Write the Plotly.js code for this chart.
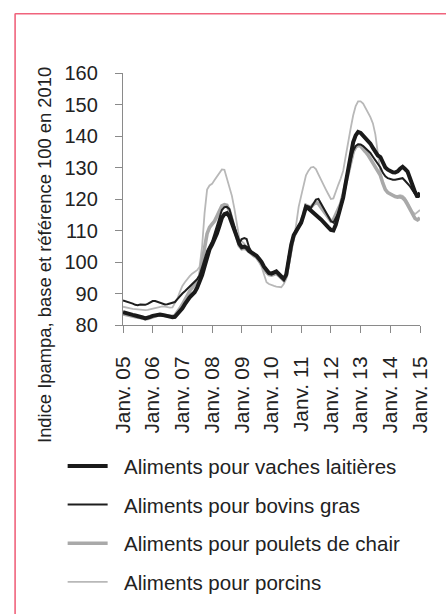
<!DOCTYPE html>
<html>
<head>
<meta charset="utf-8">
<script src="https://cdn.plot.ly/plotly-3.0.1.min.js"></script>
<style>
  html, body { margin: 0; padding: 0; background: #ffffff; }
  #chart { width: 446px; height: 614px; }
</style>
</head>
<body>
<div id="chart"></div>
<script>
// Monthly index values, January 2005 to January 2015
const startYear = 2005;

const vachesLaitieres = [
  84.1, 83.8, 83.5, 83.3, 83.2, 83.0, 82.9, 82.8, 82.4, 82.1, 82.2, 82.6,
  82.9, 83.1, 83.3, 83.3, 83.2, 83.0, 82.8, 82.6, 82.5, 82.6, 83.4, 84.4,
  85.3, 86.6, 87.9, 88.8, 89.6, 90.4, 91.8, 93.5, 95.8, 98.6, 102.0, 104.0,
  105.5, 107.2, 109.0, 111.5, 114.0, 115.2, 115.5, 114.5, 112.0, 110.0, 108.0, 105.8,
  104.7, 104.9, 104.5, 103.5, 103.0, 102.4, 102.0, 101.0, 100.0, 98.5, 97.3, 96.5,
  96.3, 96.6, 97.0, 96.2, 95.2, 94.6, 96.0, 101.5, 105.5, 108.5, 110.0, 111.2,
  112.5, 115.0, 117.5, 117.0, 116.2, 115.6, 115.0, 114.2, 113.5, 112.8, 112.0, 111.0,
  110.2, 110.0, 111.8, 114.5, 117.5, 120.5, 125.0, 130.0, 134.5, 138.0, 140.2, 141.3,
  141.0, 140.2, 139.2, 138.6, 137.6, 136.2, 134.8, 133.8, 133.3, 131.5, 130.0, 129.3,
  128.8, 128.5, 128.4, 128.8, 129.6, 130.2, 129.5, 128.7, 126.5, 124.2, 122.2, 120.6,
  122.0
];

const bovinsGras = [
  87.8, 87.6, 87.4, 87.2, 86.8, 86.4, 86.3, 86.5, 86.5, 86.4, 86.7, 87.2,
  87.6, 87.6, 87.3, 87.1, 86.8, 86.5, 86.6, 86.8, 86.9, 87.3, 88.2, 89.2,
  90.0, 90.7, 91.4, 92.1, 92.8, 93.5, 94.5, 95.8, 98.5, 101.5, 103.5, 105.0,
  106.5, 109.0, 111.3, 114.0, 116.5, 117.4, 117.5, 116.8, 113.8, 111.0, 108.5, 106.0,
  107.3, 107.6, 107.3, 104.6, 103.2, 102.5, 102.0, 101.0, 100.0, 98.5, 97.3, 96.4,
  96.2, 96.5, 96.8, 96.0, 95.0, 94.5, 96.2, 101.8, 105.8, 108.8, 110.2, 111.4,
  112.8, 115.5, 117.8, 117.6, 117.2, 118.5, 119.8, 120.0, 118.6, 117.3, 116.0, 114.5,
  113.0, 112.5, 113.8, 115.5, 117.5, 120.0, 124.5, 129.0, 132.5, 135.3, 136.8, 137.4,
  137.3, 136.8, 136.2, 135.5, 134.6, 133.4, 132.2, 131.0, 130.0, 128.3, 127.2, 126.6,
  126.3, 126.1, 126.1, 126.3, 126.6, 126.6, 125.8, 125.0, 124.0, 122.8, 121.6, 121.0,
  121.2
];

const pouletsDeChair = [
  83.5, 83.3, 83.1, 82.9, 82.7, 82.6, 82.5, 82.4, 82.2, 82.0, 82.1, 82.4,
  82.7, 82.9, 83.1, 83.2, 83.1, 82.9, 82.8, 82.7, 82.7, 83.0, 84.0, 85.2,
  86.5, 88.0, 89.5, 90.7, 91.8, 92.8, 93.8, 95.5, 99.5, 104.5, 109.0, 111.0,
  112.0, 113.0, 114.5, 116.5, 117.8, 118.2, 118.0, 116.3, 113.3, 110.5, 107.5, 105.2,
  104.2, 104.4, 104.0, 103.2, 102.6, 102.0, 101.5, 100.5, 99.4, 98.0, 96.7, 96.0,
  95.8, 96.1, 96.4, 95.7, 94.8, 94.2, 95.5, 101.0, 105.0, 108.0, 110.0, 111.3,
  112.6, 115.5, 118.0, 117.6, 117.4, 118.3, 118.9, 118.5, 117.3, 116.2, 115.0, 114.0,
  113.0, 113.4, 115.0, 116.8, 118.5, 121.5, 125.0, 129.0, 132.5, 135.0, 136.5, 137.0,
  136.8, 136.0, 135.0, 134.0, 132.8, 131.5, 130.2, 128.8, 127.5, 125.0, 123.0, 122.0,
  121.5, 121.1, 120.8, 120.6, 120.7, 120.4, 119.6, 118.2, 116.7, 115.2, 113.8, 113.4,
  114.0
];

const porcins = [
  85.8, 85.7, 85.5, 85.3, 85.1, 85.0, 84.9, 84.9, 84.8, 84.7, 84.8, 85.0,
  85.2, 85.4, 85.6, 85.8, 85.9, 85.8, 85.6, 85.5, 85.6, 86.8, 88.4, 90.5,
  92.4, 93.6, 94.6, 95.5, 96.3, 96.9, 97.4, 98.5, 105.0, 115.5, 123.0, 124.3,
  124.8, 126.0, 127.0, 128.3, 129.4, 129.3, 126.5, 123.5, 121.0, 117.0, 111.5, 107.5,
  106.5, 105.8, 104.8, 103.6, 102.8, 102.0, 101.2, 100.0, 98.5, 96.0, 93.6, 93.0,
  92.6, 92.4, 92.2, 92.0, 92.0, 93.0, 94.6, 98.5, 102.5, 107.0, 112.0, 117.5,
  121.0, 124.5, 127.5, 129.0, 130.0, 130.2, 129.5, 127.8, 126.0, 124.5, 123.0, 121.5,
  120.0, 120.2, 122.5, 124.5, 126.5, 129.0, 133.5, 138.5, 142.5, 146.5, 149.5, 151.0,
  151.0, 150.3, 149.0, 147.5, 146.0, 144.0, 140.5, 134.5, 128.5, 125.0, 123.0, 122.0,
  121.5, 121.3, 121.0, 121.0, 121.2, 121.0, 120.3, 119.0, 117.5, 116.0, 115.2, 116.0,
  116.5
];

const tickYears = [2005, 2006, 2007, 2008, 2009, 2010, 2011, 2012, 2013, 2014, 2015];
const tickLabels = ['Janv. 05', 'Janv. 06', 'Janv. 07', 'Janv. 08', 'Janv. 09', 'Janv. 10',
                    'Janv. 11', 'Janv. 12', 'Janv. 13', 'Janv. 14', 'Janv. 15'];
const seriesNames = ['Aliments pour vaches laitières', 'Aliments pour bovins gras',
                     'Aliments pour poulets de chair', 'Aliments pour porcins'];
const yTitle = 'Indice Ipampa, base et référence 100 en 2010';

const dates = vachesLaitieres.map((_, i) => {
  const y = startYear + Math.floor(i / 12);
  const m = (i % 12) + 1;
  return y + '-' + String(m).padStart(2, '0') + '-01';
});
const tickVals = tickYears.map(y => y + '-01-01');

const FONT = 'Liberation Sans, Arial, sans-serif';
const GAP = '\u00A0\u00A0';

function tr(name, y, color, width, group, rank) {
  return {
    type: 'scatter', mode: 'lines', x: dates, y: y, name: GAP + name,
    legendgroup: group, legendrank: rank,
    line: { color: color, width: width, shape: 'linear' },
    hoverinfo: 'skip'
  };
}

// drawn back to front; legend ordered by rank
const data = [
  tr(seriesNames[3], porcins, '#b8b8b8', 1.8, 'g4', 4),
  tr(seriesNames[2], pouletsDeChair, '#a9a9a9', 3.6, 'g3', 3),
  tr(seriesNames[1], bovinsGras, '#1e1e1e', 2.0, 'g2', 2),
  tr(seriesNames[0], vachesLaitieres, '#1a1a1a', 4.0, 'g1', 1)
];

const L = 123.3, R = 420, T = 72.7, B = 334.3;
const W = R - L, H = B - T;
const px = v => (v - L) / W;
const py = v => (B - v) / H;

const layout = {
  width: 446, height: 614,
  margin: { l: L, r: 446 - R, t: T, b: 614 - B, pad: 0 },
  paper_bgcolor: '#ffffff', plot_bgcolor: '#ffffff',
  font: { family: FONT, color: '#222222', size: 20 },
  showlegend: true,
  legend: {
    x: px(63), y: py(460), xanchor: 'left', yanchor: 'top',
    traceorder: 'grouped', tracegroupgap: 9,
    font: { family: FONT, size: 20.5, color: '#222222' },
    bgcolor: 'rgba(0,0,0,0)', itemwidth: 40, itemclick: false
  },
  xaxis: {
    type: 'date', range: ['2005-01-01', '2015-01-01'],
    tickmode: 'array', tickvals: tickVals, ticktext: tickLabels,
    tickangle: -90, ticks: 'outside', ticklen: 7, tickwidth: 1, tickcolor: '#8a8a8a',
    showline: true, linecolor: '#8a8a8a', linewidth: 1.2, showgrid: false, zeroline: false,
    tickfont: { family: FONT, size: 20.8, color: '#222222' },
    ticklabelstandoff: 15, fixedrange: true
  },
  yaxis: {
    range: [80, 160], tickmode: 'linear', tick0: 80, dtick: 10,
    ticks: 'outside', ticklen: 7, tickwidth: 1, tickcolor: '#8a8a8a',
    showline: true, linecolor: '#8a8a8a', linewidth: 1.2, showgrid: false, zeroline: false,
    tickfont: { family: FONT, size: 20, color: '#222222' },
    ticklabelstandoff: 13, fixedrange: true
  },
  annotations: [{
    text: yTitle, xref: 'paper', yref: 'paper', x: px(45), y: py(262),
    xanchor: 'center', yanchor: 'middle', textangle: -90, showarrow: false,
    font: { family: FONT, size: 18.4, color: '#222222' }
  }],
  shapes: [
    { type: 'line', xref: 'paper', yref: 'paper', x0: px(15.5), x1: px(15.5), y0: py(11), y1: py(640),
      line: { color: '#f0637c', width: 1.6 } },
    { type: 'line', xref: 'paper', yref: 'paper', x0: px(15.5), x1: px(470), y0: py(11.2), y1: py(11.2),
      line: { color: '#f0637c', width: 1.6 } }
  ]
};

Plotly.newPlot('chart', data, layout, { displayModeBar: false, staticPlot: true });
</script>
</body>
</html>
